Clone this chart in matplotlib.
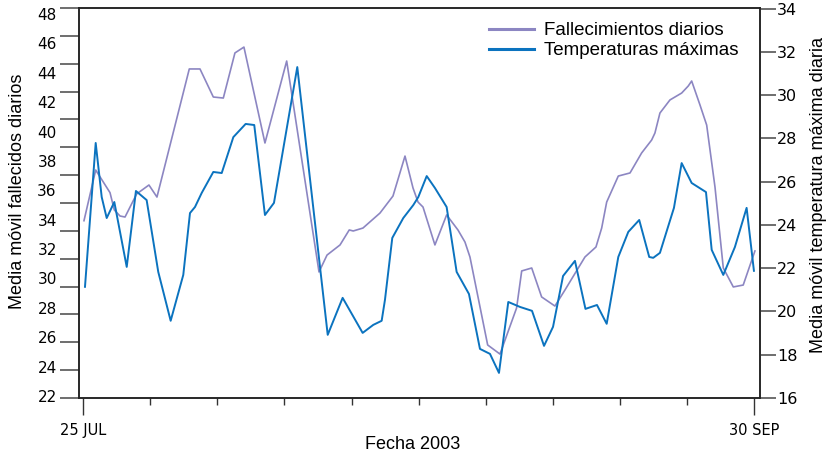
import numpy as np
import matplotlib.pyplot as plt

# dias desde el 25 de julio (vertices de cada serie) y valores
dias_fall = [0.07, 1.24, 2.67, 3.10, 3.67, 4.17, 5.33, 6.56, 7.36, 10.59,
             11.66, 12.99, 13.99, 15.15, 16.05, 18.15, 20.32, 23.55, 24.35, 25.65,
             26.57, 26.97, 27.94, 29.64, 30.94, 32.14, 32.94, 33.44, 33.94, 35.13,
             36.30, 37.43, 38.13, 38.63, 40.40, 41.63, 43.29, 43.80, 44.80, 45.79,
             47.12, 48.12, 50.12, 51.22, 51.79, 52.29, 53.45, 54.62, 55.78, 56.78,
             57.11, 57.61, 58.61, 59.78, 60.44, 60.78, 61.61, 62.28, 63.11, 63.94,
             64.94, 65.93, 67.10]
fallecimientos = [33.93, 37.38, 35.84, 34.66, 34.25, 34.18, 35.75, 36.36, 35.54, 44.26,
                  44.26, 42.35, 42.28, 45.35, 45.75, 39.22, 44.80, 30.44, 31.59, 32.28,
                  33.30, 33.23, 33.43, 34.45, 35.61, 38.33, 36.16, 35.20, 34.86, 32.28,
                  34.32, 33.30, 32.48, 31.46, 25.47, 24.85, 27.99, 30.51, 30.71, 28.74,
                  28.12, 29.21, 31.46, 32.14, 33.43, 35.20, 36.97, 37.18, 38.54, 39.42,
                  39.90, 41.26, 42.15, 42.62, 43.10, 43.44, 41.81, 40.44, 36.22, 30.71,
                  29.42, 29.55, 31.87]

dias_temp = [0.17, 1.24, 1.84, 2.34, 3.10, 4.34, 5.26, 6.33, 7.49, 8.73,
             9.99, 10.66, 11.16, 11.83, 12.99, 13.83, 14.99, 16.22, 17.08, 18.15,
             19.05, 21.38, 24.42, 25.91, 27.91, 28.97, 29.81, 30.14, 30.87, 31.97,
             32.97, 33.47, 34.31, 35.13, 36.30, 37.30, 38.53, 39.63, 40.63, 41.53,
             42.46, 43.63, 44.83, 46.03, 46.93, 47.93, 49.12, 50.17, 51.32, 52.29,
             53.45, 54.45, 55.54, 56.54, 56.94, 57.61, 59.01, 59.78, 60.78, 62.21,
             62.78, 63.94, 65.10, 66.27, 67.00]
temperaturas = [21.14, 27.79, 25.29, 24.32, 25.06, 22.06, 25.57, 25.15, 21.83, 19.57,
                21.69, 24.55, 24.83, 25.48, 26.45, 26.40, 28.06, 28.67, 28.62, 24.46,
                25.02, 31.30, 18.92, 20.63, 19.01, 19.38, 19.57, 20.54, 23.40, 24.32,
                24.92, 25.29, 26.26, 25.71, 24.83, 21.83, 20.81, 18.27, 18.04, 17.16,
                20.44, 20.21, 20.03, 18.41, 19.29, 21.64, 22.34, 20.12, 20.30, 19.43,
                22.52, 23.68, 24.23, 22.52, 22.48, 22.71, 24.79, 26.86, 25.94, 25.52,
                22.85, 21.69, 22.98, 24.79, 21.88]

etiquetas_izq = list(range(22, 49, 2))
etiquetas_der = list(range(16, 35, 2))
fechas = ["25 JUL", "30 SEP"]
n_dias = 67

c_fall = "#8c86c2"
c_temp = "#0b73bf"
c_tick = "#555555"
fuente = "Liberation Sans"

fig = plt.figure(figsize=(8.27, 4.57), dpi=100)
ax = fig.add_axes([0.0955, 0.1291, 0.8234, 0.8534])
ax2 = ax.twinx()

l1, = ax.plot(dias_fall, fallecimientos, color=c_fall, lw=1.2)
l2, = ax2.plot(dias_temp, temperaturas, color=c_temp, lw=1.4)

ax.set_xlim(-0.43, 67.6)
ax.set_ylim(21.86, 48.41)
ax2.set_ylim(16, 34.03)

# eje x: marcas largas en los extremos, cortas en medio
ax.set_xticks([0, n_dias])
ax.set_xticklabels(fechas, fontsize=10.5)
ax.set_xticks(np.linspace(0, n_dias, 11)[1:-1], minor=True)
ax.tick_params(axis="x", which="major", length=12, width=1, color="#333333", pad=6)
ax.tick_params(axis="x", which="minor", length=4.7, width=1, color="#333333")

# eje izquierdo: las etiquetas no caen sobre las marcas
ax.set_yticks(etiquetas_izq)
ax.set_yticklabels([str(v) for v in etiquetas_izq], fontsize=11)
ax.set_yticks(np.linspace(ax.get_ylim()[0], ax.get_ylim()[1], 15), minor=True)
ax.tick_params(axis="y", which="major", length=0, pad=16)
ax.tick_params(axis="y", which="minor", length=13.5, width=1.2, color=c_tick)

ax2.set_yticks(etiquetas_der)
ax2.set_yticklabels([str(v) for v in etiquetas_der], fontsize=11.5)
ax2.tick_params(axis="y", length=11.5, width=1.2, color=c_tick, pad=1)

for a in (ax, ax2):
    for s in a.spines.values():
        s.set_color("#222222")
        s.set_linewidth(1.1)

ax.set_xlabel("Fecha 2003", fontsize=13, family=fuente)
ax.xaxis.set_label_coords(0.49, -0.097)
ax.set_ylabel("Media móvil fallecidos diarios", fontsize=13, family=fuente)
ax.yaxis.set_label_coords(-0.078, 0.53)
ax2.set_ylabel("Media móvil temperatura máxima diaria", fontsize=13, family=fuente)
ax2.yaxis.set_label_coords(1.073, 0.52)

leg = ax2.legend([l1, l2], ["Fallecimientos diarios", "Temperaturas máximas"],
                 loc="upper left", bbox_to_anchor=(489 / 827, 1 - 22 / 457),
                 bbox_transform=fig.transFigure, frameon=False,
                 prop={"family": fuente, "size": 13.5},
                 handlelength=2.4, handletextpad=0.55, labelspacing=0.15,
                 borderpad=0, borderaxespad=0)
for h in leg.get_lines():
    h.set_linewidth(2.2)

fig.savefig("out.png", dpi=100)
